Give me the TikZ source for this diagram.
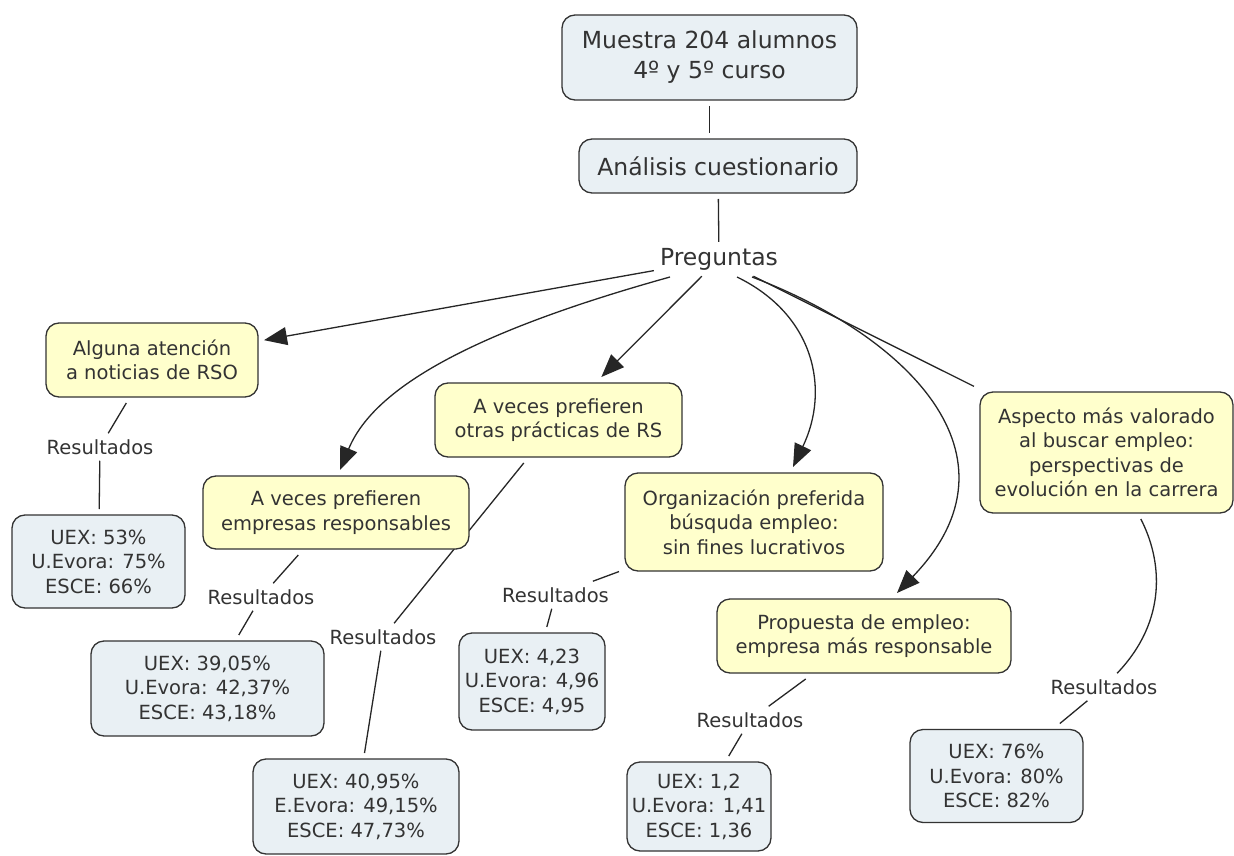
\documentclass[tikz,border=0pt]{standalone}
\usepackage{fontspec}
\setmainfont{DejaVu Sans}
\usetikzlibrary{arrows.meta}
\definecolor{yelc}{HTML}{FFFFCC}
\definecolor{bluec}{HTML}{E9F0F4}
\definecolor{bordc}{HTML}{333333}
\definecolor{txtc}{HTML}{333333}
\definecolor{linec}{HTML}{262626}
\pgfdeclarelayer{bg}
\pgfsetlayers{bg,main}
\newcommand\fntS{\fontsize{19.5pt}{24.5pt}\selectfont}
\newcommand\fntB{\fontsize{23.5pt}{30pt}\selectfont}
\tikzset{
  concept/.style={draw=bordc, fill=yelc, rounded corners=13pt, line width=1.3pt,
    align=center, text=txtc, font=\fntS, inner sep=0pt, outer sep=6pt},
  result/.style={concept, fill=bluec},
  headbox/.style={result, font=\fntB},
  lbl/.style={text=txtc, font=\fntS, inner sep=6pt},
  headlbl/.style={lbl, font=\fntB},
  link/.style={draw=linec, line width=1.3pt},
  arr/.style={link, -{Triangle[length=23pt,width=18pt]}},
}
\begin{document}
\begin{tikzpicture}[x=1pt,y=-1pt]
\useasboundingbox (0,0) rectangle (1234,856);

% header
\node[headbox, minimum width=295pt, minimum height=85pt] (top) at (709.5,57.5) {Muestra 204 alumnos\\4º y 5º curso};
\node[headbox, minimum width=278pt, minimum height=54pt] (ana) at (718,166) {Análisis cuestionario};
\node[headlbl] (preg) at (719,259) {Preguntas};

% questions
\node[concept, minimum width=212pt, minimum height=74pt] (alg) at (152,360) {Alguna atención\\a noticias de RSO};
\node[concept, minimum width=266pt, minimum height=73pt] (emp) at (336,512.5) {A veces prefieren\\empresas responsables};
\node[concept, minimum width=247pt, minimum height=74pt] (otr) at (558.5,420) {A veces prefieren\\otras prácticas de RS};
\node[concept, minimum width=258pt, minimum height=98pt] (org) at (754,522) {Organización preferida\\búsquda empleo:\\sin fines lucrativos};
\node[concept, minimum width=294pt, minimum height=74pt] (prop) at (864,636) {Propuesta de empleo:\\empresa más responsable};
\node[concept, minimum width=253pt, minimum height=121pt] (asp) at (1106.5,452.5) {Aspecto más valorado\\al buscar empleo:\\perspectivas de\\evolución en la carrera};

% link labels
\node[lbl] (r1) at (100,447) {Resultados};
\node[lbl] (r2) at (261,597) {Resultados};
\node[lbl] (r3) at (383,637) {Resultados};
\node[lbl] (r4) at (555.5,595) {Resultados};
\node[lbl] (r5) at (750,720) {Resultados};
\node[lbl] (r6) at (1104,687) {Resultados};

% results
\node[result, minimum width=173pt, minimum height=93pt] (b1) at (98.5,561.5) {UEX: 53\%\\U.Evora: 75\%\\ESCE: 66\%};
\node[result, minimum width=233pt, minimum height=95pt] (b2) at (207.5,688.5) {UEX: 39,05\%\\U.Evora: 42,37\%\\ESCE: 43,18\%};
\node[result, minimum width=206pt, minimum height=95pt] (b3) at (356,806.5) {UEX: 40,95\%\\E.Evora: 49,15\%\\ESCE: 47,73\%};
\node[result, minimum width=146pt, minimum height=97pt] (b4) at (532,681.5) {UEX: 4,23\\U.Evora: 4,96\\ESCE: 4,95};
\node[result, minimum width=144pt, minimum height=89pt] (b5) at (699,806.5) {UEX: 1,2\\U.Evora: 1,41\\ESCE: 1,36};
\node[result, minimum width=173pt, minimum height=93pt] (b6) at (996.5,776) {UEX: 76\%\\U.Evora: 80\%\\ESCE: 82\%};

\begin{pgfonlayer}{bg}
  % page background
  \fill[white] (0,0) rectangle (1234,856);
  % header chain
  \draw[link] (top) -- (top |- ana.north);
  \draw[link] (ana) -- (preg);
  % fan out of the questions
  \draw[arr] (preg) -- (alg);
  \draw[arr] ([shift={(-49,18)}]preg.center) .. controls (480,330) and (375,385) .. ([xshift=4pt]emp.north);
  \draw[arr] (preg) -- (otr);
  \draw[arr] ([shift={(18,18)}]preg.center) .. controls (815,315) and (830,390) .. ([xshift=39pt]org.north);
  \draw[arr] ([shift={(33,18)}]preg.center) .. controls (905,335) and (1030,455) .. ([xshift=33pt]prop.north);
  \draw[link] (preg) -- (asp);
  % results links
  \draw[link] (alg) -- (r1);
  \draw[link] (r1) -- (b1);
  \draw[link] (emp) -- (r2);
  \draw[link] (r2) -- (b2);
  \draw[link] (otr) -- (r3);
  \draw[link] (r3) -- (b3);
  \draw[link] (org) -- (r4);
  \draw[link] (r4) -- (b4);
  \draw[link] (prop) -- (r5);
  \draw[link] (r5) -- (b5);
  \draw[link] (asp) .. controls (1162,560) and (1168,620) .. (r6);
  \draw[link] (r6) -- (b6);
\end{pgfonlayer}
\end{tikzpicture}
\end{document}
